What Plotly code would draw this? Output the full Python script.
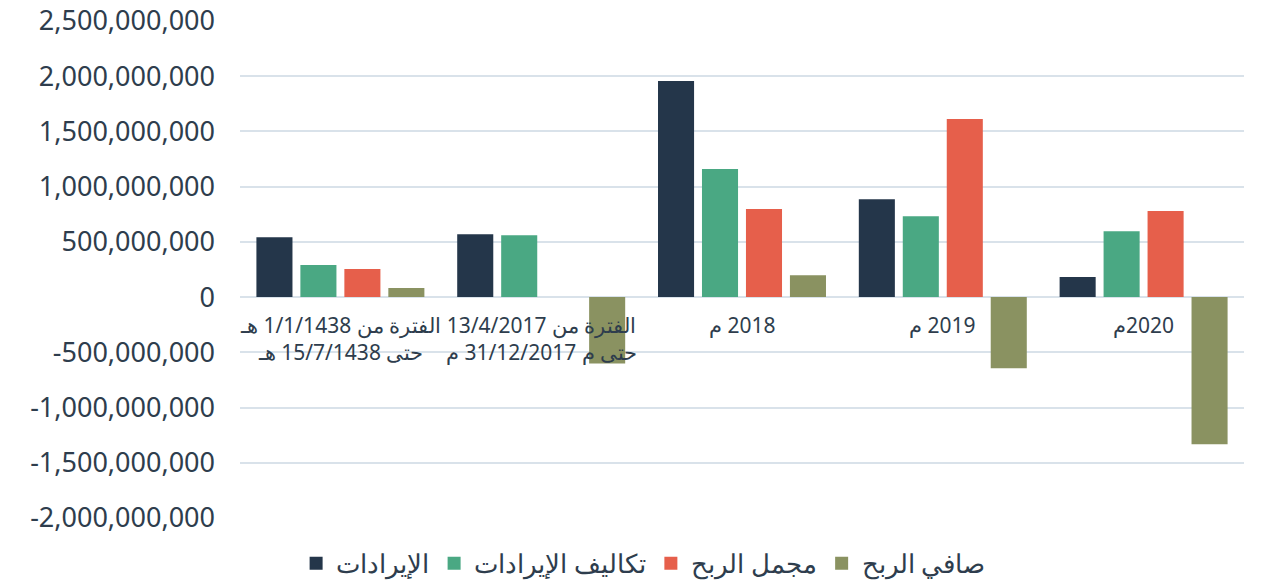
import plotly.graph_objects as go

categories = [
    "الفترة من 1/1/1438 هـ<br>حتى 15/7/1438 هـ",
    "الفترة من 13/4/2017<br>حتى م 31/12/2017 م",
    "2018 م",
    "2019 م",
    "2020م",
]
series_names = ["الإيرادات", "تكاليف الإيرادات", "مجمل الربح", "صافي الربح"]
revenue = [543e6, 570e6, 1956e6, 887e6, 181e6]
cost_of_revenue = [290e6, 559e6, 1159e6, 733e6, 597e6]
gross_profit = [254e6, None, 797e6, 1612e6, 779e6]
net_profit = [82e6, -600e6, 199e6, -643e6, -1332e6]
tick_values = [2.5e9, 2e9, 1.5e9, 1e9, 5e8, 0, -5e8, -1e9, -1.5e9, -2e9]
tick_labels = ["2,500,000,000", "2,000,000,000", "1,500,000,000", "1,000,000,000",
               "500,000,000", "0", "-500,000,000", "-1,000,000,000",
               "-1,500,000,000", "-2,000,000,000"]

colors = ["#24364A", "#4AA883", "#E65F4B", "#8A9261"]
text_color = "#2E3D4D"
grid_color = "#D9E2EA"

RLE, PDF = "\u202B", "\u202C"


def rtl(text):
    return "<br>".join(RLE + line + PDF for line in text.split("<br>"))


fig = go.Figure()
for name, vals, col in zip(series_names,
                           [revenue, cost_of_revenue, gross_profit, net_profit],
                           colors):
    fig.add_trace(go.Bar(x=list(range(len(categories))), y=vals, name=name,
                         showlegend=False, legendgroup=name,
                         marker=dict(color=col, line=dict(width=0))))
# legend entries with larger square swatches
for name, col in zip(series_names, colors):
    fig.add_trace(go.Scatter(x=[None], y=[None], mode="markers", name=name,
                             legendgroup=name,
                             marker=dict(symbol="square", size=13, color=col)))

for i, cat in enumerate(categories):
    fig.add_annotation(x=i, y=0, xref="x", yref="y", text=rtl(cat), showarrow=False,
                       yanchor="top", xanchor="center", yshift=-12,
                       font=dict(size=21, color=text_color, family="Noto Sans"),
                       align="center")

fig.update_layout(
    width=1262, height=581,
    margin=dict(l=240, r=18, t=21, b=63, autoexpand=False),
    paper_bgcolor="white", plot_bgcolor="white",
    barmode="group", bargap=0.124, bargroupgap=0.18,
    font=dict(family="Noto Sans", color=text_color),
    legend=dict(orientation="h", x=0.402, xanchor="center", y=-0.044, yanchor="top",
                font=dict(size=26, color=text_color), itemwidth=30,
                traceorder="normal"),
    xaxis=dict(showticklabels=False, showgrid=False, zeroline=False,
               range=[-0.5, len(categories) - 0.5], fixedrange=True, automargin=False),
    yaxis=dict(range=[-2e9, 2.5e9], tickvals=tick_values, ticktext=tick_labels,
               showgrid=True, gridcolor=grid_color, gridwidth=2,
               zeroline=True, zerolinecolor=grid_color, zerolinewidth=2,
               tickfont=dict(size=27, color=text_color, family="Noto Sans"),
               ticklabelstandoff=24, fixedrange=True, automargin=False),
)

fig.write_html("out.html")
